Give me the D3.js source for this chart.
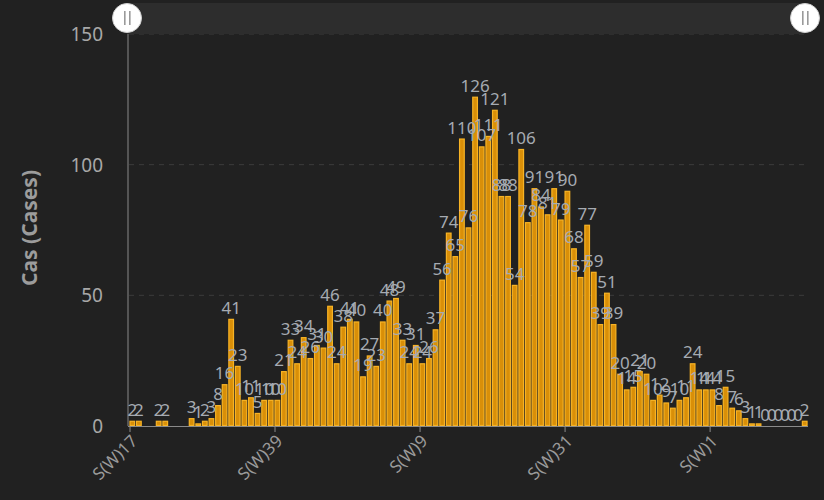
<!DOCTYPE html>
<html>
<head>
<meta charset="utf-8">
<script src="https://cdn.jsdelivr.net/npm/d3@7"></script>
<style>
html, body { margin: 0; padding: 0; background: #212121; }
svg { display: block; font-family: "Noto Sans", "Open Sans", sans-serif; }
</style>
</head>
<body>
<script>
// week numbers, 2021 W17 -> 2023 W15
var weeks = [17,18,19,20,21,22,23,24,25,26,27,28,29,30,31,32,33,34,35,36,37,38,39,40,41,42,43,44,45,46,47,48,49,50,51,52,
    1,2,3,4,5,6,7,8,9,10,11,12,13,14,15,16,17,18,19,20,21,22,23,24,25,26,27,28,29,30,31,32,33,34,35,36,37,38,39,40,41,42,43,44,45,46,47,48,49,50,51,52,
    1,2,3,4,5,6,7,8,9,10,11,12,13,14,15]

// weekly cases (null = no report)
var cases = [2,2,null,null,2,2,null,null,null,3,1,2,3,8,16,41,23,10,11,5,10,10,10,21,33,24,34,26,31,30,
    46,24,38,41,40,19,27,23,40,48,49,33,24,31,24,26,37,56,74,65,110,76,126,107,111,121,88,88,54,106,
    78,91,84,81,91,79,90,68,57,77,59,39,51,39,20,14,15,21,20,10,12,9,7,10,11,24,14,14,14,8,15,7,6,3,
    1,1,0,0,0,0,0,0,2]

var yTicks = [0, 50, 100, 150]
var labelEvery = 22
var yTitle = 'Cas (Cases)'

var width = 824, height = 500
var x0 = 129, x1 = 808, yBase = 426, yTop = 34

var svg = d3.select('body').append('svg')
    .attr('width', width)
    .attr('height', height)

svg.append('rect')
    .attr('width', width).attr('height', height)
    .attr('fill', '#212121')

var x = d3.scaleBand()
    .domain(d3.range(cases.length))
    .range([x0, x1])
    .paddingInner(0.14)
    .paddingOuter(0.07)

var step = (x1 - x0) / cases.length

var y = d3.scaleLinear()
    .domain([0, 150])
    .range([yBase, yTop])

// grid
svg.append('g')
    .selectAll('line')
    .data(yTicks.filter(function(d) { return d > 0 }))
    .enter().append('line')
    .attr('x1', x0).attr('x2', x1)
    .attr('y1', function(d) { return y(d) }).attr('y2', function(d) { return y(d) })
    .style('stroke', '#3c3c3c')
    .style('stroke-dasharray', '5,5')

// y tick labels
svg.append('g')
    .selectAll('text')
    .data(yTicks)
    .enter().append('text')
    .attr('x', 103)
    .attr('y', function(d) { return y(d) })
    .attr('dy', '0.36em')
    .attr('text-anchor', 'end')
    .style('fill', '#a8a8a8')
    .style('font-size', '19px')
    .text(function(d) { return d })

svg.append('text')
    .attr('transform', 'translate(37,' + 228 + ') rotate(-90)')
    .attr('text-anchor', 'middle')
    .style('fill', '#9c9c9c')
    .style('font-size', '21px')
    .style('font-weight', 'bold')
    .text(yTitle)

// bars
var rows = cases.map(function(v, i) { return {i: i, v: v} })

svg.append('g')
    .selectAll('rect')
    .data(rows.filter(function(d) { return d.v !== null }))
    .enter().append('rect')
    .attr('x', function(d) { return x(d.i) + 0.5 })
    .attr('y', function(d) { return y(d.v) + 0.5 })
    .attr('width', x.bandwidth() - 1)
    .attr('height', function(d) { return Math.max(0, yBase - y(d.v) - 1) })
    .style('fill', '#d98f08')
    .style('stroke', '#f7b325')
    .style('stroke-width', 1.2)

// axes lines
svg.append('line')
    .attr('x1', x0 - 1).attr('x2', x0 - 1)
    .attr('y1', 18).attr('y2', yBase)
    .style('stroke', '#8a8a8a')

svg.append('line')
    .attr('x1', x0 - 1).attr('x2', x1)
    .attr('y1', yBase + 0.5).attr('y2', yBase + 0.5)
    .style('stroke', '#8a8a8a')

var tickIdx = d3.range(0, cases.length, labelEvery)

svg.append('g')
    .selectAll('line')
    .data(tickIdx)
    .enter().append('line')
    .attr('x1', function(i) { return x0 + step * i + 1 })
    .attr('x2', function(i) { return x0 + step * i + 1 })
    .attr('y1', yBase).attr('y2', yBase + 6)
    .style('stroke', '#8a8a8a')

svg.append('g')
    .selectAll('text')
    .data(tickIdx)
    .enter().append('text')
    .attr('transform', function(i) {
        return 'translate(' + (x(i) + x.bandwidth() / 2 + 2) + ',' + (yBase + 12) + ') rotate(-45)'
    })
    .attr('text-anchor', 'end')
    .attr('dy', '0.35em')
    .style('fill', '#9a9a9a')
    .style('font-size', '17px')
    .text(function(i) { return 'S(W)' + weeks[i] })

// value labels
svg.append('g')
    .selectAll('text')
    .data(rows.filter(function(d) { return d.v !== null }))
    .enter().append('text')
    .attr('x', function(d) { return x(d.i) + x.bandwidth() / 2 })
    .attr('y', function(d) { return y(d.v) - 5 })
    .attr('text-anchor', 'middle')
    .style('fill', '#a6abb2')
    .style('font-size', '17px')
    .text(function(d) { return d.v })

// zoom slider
svg.append('rect')
    .attr('x', 127).attr('y', 3)
    .attr('width', 678).attr('height', 31)
    .style('fill', '#2d2d2d')

var handles = svg.append('g')
    .selectAll('g')
    .data([127, 805])
    .enter().append('g')
    .attr('transform', function(d) { return 'translate(' + d + ',18)' })

handles.append('circle')
    .attr('r', 14.5)
    .style('fill', '#ffffff')
    .style('stroke', '#d0d0d0')

handles.selectAll('rect')
    .data([-3, 2])
    .enter().append('rect')
    .attr('x', function(d) { return d })
    .attr('y', -7)
    .attr('width', 1.6)
    .attr('height', 14)
    .style('fill', '#9a9a9a')
</script>
</body>
</html>
